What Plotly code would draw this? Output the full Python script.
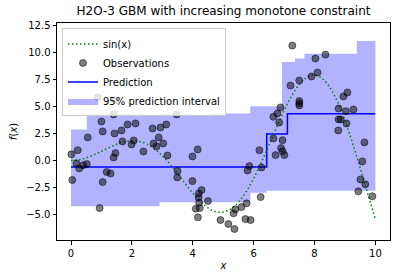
import plotly.graph_objects as go

# ---- data ----
curve_x = [0, 0.25, 0.5, 0.75, 1.0, 1.25, 1.5, 1.75, 2.0, 2.25, 2.5, 2.75, 3.0, 3.25, 3.5, 3.75,
           4.0, 4.25, 4.5, 4.75, 5.0, 5.25, 5.5, 5.75, 6.0, 6.25, 6.5, 6.75, 7.0, 7.25, 7.5, 7.75,
           8.0, 8.25, 8.5, 8.75, 9.0, 9.25, 9.5, 9.75, 10.0]
curve_y = [0.0, 0.06, 0.24, 0.51, 0.84, 1.19, 1.50, 1.72, 1.82, 1.75, 1.50, 1.05, 0.42, -0.35,
           -1.23, -2.14, -3.03, -3.80, -4.40, -4.75, -4.79, -4.51, -3.88, -2.93, -1.68, -0.21,
           1.40, 3.04, 4.60, 5.97, 7.04, 7.71, 7.91, 7.61, 6.78, 5.47, 3.71, 1.60, -0.71, -3.10, -5.44]

obs_x = [0.87, 1.46, 1.40, 1.00, 1.04, 0.55, 0.22, 0.01, 0.18, 0.27, 0.40, 0.52, 0.04, 0.94,
         1.04, 1.17, 1.30, 1.40, 1.46, 1.43, 1.66, 1.86, 2.12, 1.69, 2.06, 1.99, 2.38, 2.68,
         2.94, 3.13, 2.71, 2.88, 3.03, 2.81, 3.17, 3.47, 4.16, 3.99, 3.50, 3.49, 3.99, 4.29,
         4.20, 4.19, 4.21, 4.50, 4.10, 4.23, 4.17, 4.91, 5.17, 5.37, 5.34, 5.40, 5.60, 5.77,
         5.73, 5.90, 6.23, 6.19, 5.80, 5.86, 6.26, 6.65, 6.95, 6.72, 6.90, 6.95, 7.01, 6.84,
         6.65, 6.78, 6.88, 7.21, 7.50, 7.50, 7.50, 7.50, 7.27, 8.03, 8.36, 7.90, 8.10, 8.95,
         9.08, 8.79, 9.03, 9.28, 8.79, 8.86, 9.05, 8.78, 9.64, 9.57, 9.51, 9.67, 9.44, 9.90]
obs_y = [5.86, 5.56, 4.26, 3.61, 2.69, 2.13, 0.95, 0.56, -0.28, -0.74, -0.44, -0.34, -1.82, -4.42,
         -2.01, -1.08, -1.21, 0.28, 0.68, 2.50, 2.78, 3.33, 3.43, 1.76, 1.85, 1.48, 0.83, 2.96,
         3.05, 3.33, 1.57, 2.13, 1.57, 1.30, 0.46, 4.26, 1.02, 0.37, -0.99, -1.58, -1.92, -2.75,
         -3.06, -3.43, -3.92, -3.77, -4.48, -4.42, -5.28, -5.53, -5.90, -6.36, -4.91, -4.54,
         -4.32, -3.98, -5.44, -5.53, -3.40, 0.95, -0.93, -0.53, -0.65, 2.04, 1.88, 0.49, 1.14,
         0.86, 0.49, 3.52, 4.04, 4.35, 4.91, 6.94, 7.41, 5.50, 5.30, 5.10, 10.65, 9.44, 9.81,
         7.78, 8.15, 5.93, 6.30, 4.81, 4.56, 4.72, 3.80, 3.80, 3.43, 2.78, 1.67, -0.09, -1.76,
         -2.22, -2.87, -3.33]

pred_x = [0.0, 6.43, 7.11, 10.0]
pred_y = [-0.60, 2.44, 4.33, 4.33]

band_x = [0.0, 0.52, 2.91, 4.68, 5.89, 6.43, 6.93, 7.36, 7.67, 9.39, 10.0]
band_upper = [2.87, 4.26, 4.26, 4.35, 5.03, 5.03, 9.13, 9.45, 9.90, 11.07, 11.07]
band_lower = [-4.26, -4.26, -3.89, -3.89, -3.00, -2.81, -2.81, -2.81, -2.81, -2.81, -2.81]

x_ticks = [0, 2, 4, 6, 8, 10]
y_ticks = [-5.0, -2.5, 0.0, 2.5, 5.0, 7.5, 10.0, 12.5]

title = "H2O-3 GBM with increasing monotone constraint"

FONT = "DejaVu Sans"

fig = go.Figure()

fig.add_trace(go.Scatter(x=band_x, y=band_lower, mode="lines", line=dict(width=0, shape="hv"),
                         showlegend=False, hoverinfo="skip"))
fig.add_trace(go.Scatter(x=band_x, y=band_upper, mode="lines", line=dict(width=0, shape="hv"),
                         fill="tonexty", fillcolor="rgba(0,0,255,0.3)",
                         name="95% prediction interval", legendrank=4))

fig.add_trace(go.Scatter(x=pred_x, y=pred_y, mode="lines", line=dict(color="blue", width=1.5, shape="hv"),
                         name="Prediction", legendrank=3))

fig.add_trace(go.Scatter(x=curve_x, y=curve_y, mode="lines",
                         line=dict(color="green", width=1.5, dash="1.5px,2.5px", shape="spline"),
                         name="sin(x)", legendrank=1))

fig.add_trace(go.Scatter(x=obs_x, y=obs_y, mode="markers",
                         marker=dict(size=7, color="rgba(0,0,0,0.5)",
                                     line=dict(color="rgba(0,0,0,0.5)", width=1)),
                         name="Observations", legendrank=2))

axis_common = dict(showgrid=False, zeroline=False, showline=True, linecolor="black", linewidth=1,
                   mirror=True, ticks="outside", ticklen=3.5, tickwidth=1, tickcolor="black",
                   tickfont=dict(family=FONT, size=10, color="black"))

fig.update_layout(
    width=397, height=278,
    margin=dict(l=57, r=7, t=23, b=38),
    paper_bgcolor="white", plot_bgcolor="white",
    font=dict(family=FONT, size=10, color="black"),
    title=dict(text=title, x=0.5, xref="paper", xanchor="center", y=1 - 11 / 278, yref="container",
               yanchor="middle", font=dict(family=FONT, size=12, color="black")),
    xaxis=dict(range=[-0.46, 10.48], tickvals=x_ticks, ticktext=[str(v) for v in x_ticks],
               title=dict(text="<i>x</i>", standoff=4, font=dict(family=FONT, size=10)), **axis_common),
    yaxis=dict(range=[-7.38, 12.74], tickvals=y_ticks, tickformat=".1f",
               title=dict(text="<i>f</i>(<i>x</i>)", standoff=6, font=dict(family=FONT, size=10)), **axis_common),
    legend=dict(x=0.015, y=0.975, xanchor="left", yanchor="top", traceorder="normal",
                bgcolor="rgba(255,255,255,0.8)", bordercolor="#cccccc", borderwidth=1,
                font=dict(family=FONT, size=10), tracegroupgap=0, itemwidth=30),
    showlegend=True,
)

fig.write_html("out.html")
